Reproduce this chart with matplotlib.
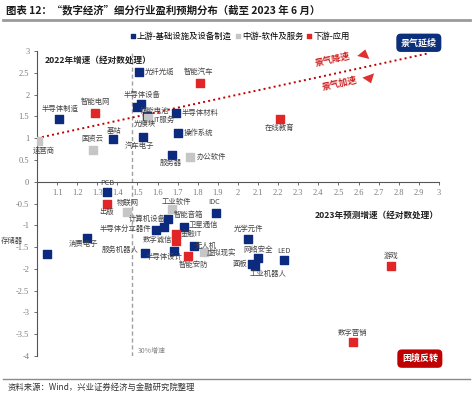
import numpy as np
import matplotlib
matplotlib.use('Agg')
import matplotlib.pyplot as plt
from matplotlib.lines import Line2D

plt.rcParams['font.family'] = ['Noto Sans CJK SC', 'DejaVu Sans']
plt.rcParams['axes.unicode_minus'] = False

# upstream: infrastructure & equipment
up_names = ['光纤光缆', '储能电池', '半导体设备', '光模块', '半导体材料', '操作系统', '基站',
            '汽车电子', '服务器', '半导体制造', 'PCB', 'IDC', '智能音箱', '计算机设备',
            '半导体分立器件', '卫星通信', '存储器', '消费电子', '服务机器人', '半导体设计',
            '无人机', '光学元件', '网络安全', '面板', '工业机器人', 'LED']
up_x = [1.51, 1.50, 1.52, 1.545, 1.69, 1.70, 1.38, 1.53, 1.67, 1.11, 1.35, 1.89, 1.65, 1.63,
        1.59, 1.73, 1.05, 1.25, 1.54, 1.68, 1.78, 2.05, 2.10, 2.07, 2.085, 2.23]
up_y = [2.52, 1.72, 1.79, 1.50, 1.58, 1.12, 0.99, 1.03, 0.62, 1.44, -0.23, -0.71, -0.85, -1.03,
        -1.10, -1.03, -1.65, -1.28, -1.63, -1.60, -1.47, -1.32, -1.74, -1.88, -1.93, -1.79]

# midstream: software & services
mid_names = ['IT服务', '国资云', '运营商', '办公软件', '出版', '工业软件', '虚拟现实']
mid_x = [1.55, 1.28, 1.005, 1.76, 1.45, 1.67, 1.83]
mid_y = [1.47, 0.73, 0.94, 0.57, -0.69, -0.62, -1.62]

# downstream: applications
down_names = ['智能汽车', '智能电网', '在线教育', '物联网', '金融IT', '数字诚信', '智能安防',
              '游戏', '数字营销']
down_x = [1.81, 1.29, 2.21, 1.35, 1.69, 1.69, 1.75, 2.76, 2.57]
down_y = [2.27, 1.58, 1.45, -0.50, -1.21, -1.36, -1.70, -1.93, -3.67]

# label offsets in pixels (dx, dy up)
label_off = {
    '光纤光缆': (20, 0), '储能电池': (17, -4), '半导体设备': (1, 9), '光模块': (-2, -8),
    '半导体材料': (24, 0), '操作系统': (21, 0), '基站': (1, 8), '汽车电子': (-4, -9),
    '服务器': (-1, -8), '半导体制造': (1, 10), 'PCB': (0, 9), 'IDC': (-2, 11),
    '智能音箱': (21, 4), '计算机设备': (-16, 8), '半导体分立器件': (-30, 1),
    '卫星通信': (20, 2), '存储器': (-35, 13), '消费电子': (-4, -6), '服务机器人': (-25, 3),
    '半导体设计': (-10, -6), '无人机': (12, 0), '光学元件': (0, 10), '网络安全': (0, 8),
    '面板': (-12, 0), '工业机器人': (13, -8), 'LED': (0, 9),
    'IT服务': (16, -2), '国资云': (-1, 11), '运营商': (6, -10), '办公软件': (22, 0),
    '出版': (-21, 0), '工业软件': (5, 7), '虚拟现实': (18, 0),
    '智能汽车': (-1, 11), '智能电网': (0, 11), '在线教育': (-1, -9), '物联网': (21, 1),
    '金融IT': (16, 1), '数字诚信': (-18, 1), '智能安防': (6, -9), '游戏': (0, 10),
    '数字营销': (0, 9),
}

BLUE = '#0c2b7e'
GRAY = '#c6c6c6'
RED = '#e02626'
DARKRED = '#c00000'

fig = plt.figure(figsize=(4.74, 3.94), dpi=100)
ax = fig.add_axes([0.078, 0.0964, 0.848, 0.774])
ax.set_xlim(1, 3)
ax.set_ylim(-4, 3)

ax.spines['top'].set_visible(False)
ax.spines['right'].set_visible(False)
ax.spines['bottom'].set_position(('data', 0))
for s in ['left', 'bottom']:
    ax.spines[s].set_color('#555555')
    ax.spines[s].set_linewidth(0.8)

xt = [round(v, 1) for v in np.arange(1.1, 3.01, 0.1)]
ax.set_xticks(xt)
ax.set_xticklabels(['%g' % v for v in xt])
yt = [round(v, 1) for v in np.arange(-4, 3.01, 0.5)]
ax.set_yticks(yt)
ax.set_yticklabels(['%g' % v for v in yt])
ax.tick_params(axis='both', labelsize=6, colors='#555555', length=2.5, width=0.6, pad=3)
for lab in ax.get_xticklabels() + ax.get_yticklabels():
    lab.set_family('Liberation Serif')
    lab.set_color('#7a7a7a')

# 30% growth line and trend line
ax.axvline(1.473, color='#a0a0a0', lw=1, ls=(0, (3, 2)), zorder=1)
tx = np.array([1.0, 2.95])
ax.plot(tx, tx, color=DARKRED, lw=1.4, ls=':', zorder=2)

ax.scatter(up_x, up_y, marker='s', s=26, color=BLUE, zorder=3, label='上游-基础设施及设备制造')
ax.scatter(mid_x, mid_y, marker='s', s=26, color=GRAY, zorder=4, label='中游-软件及服务')
ax.scatter(down_x, down_y, marker='s', s=26, color=RED, zorder=4, label='下游-应用')

for names, xs, ys in [(up_names, up_x, up_y), (mid_names, mid_x, mid_y),
                      (down_names, down_x, down_y)]:
    for n, xv, yv in zip(names, xs, ys):
        dx, dy = label_off[n]
        ax.annotate(n, (xv, yv), xytext=(dx, dy), textcoords='offset pixels',
                    ha='center', va='center', fontsize=5.3, color='#444444',
                    fontweight='light', annotation_clip=False, zorder=5)

ax.text(1.04, 2.78, '2022年增速（经对数处理）', fontsize=6.2, fontweight='bold',
        color='#222222', ha='left', va='center')
ax.text(3.0, -0.78, '2023年预测增速（经对数处理）', fontsize=6.2, fontweight='bold',
        color='#222222', ha='right', va='center')
ax.text(1.572, -3.88, '30%增速', fontsize=5, color='#888888', ha='center', va='center')

ax.text(2.473, 2.80, '景气降速', fontsize=6.5, color='#d02020', fontweight='bold',
        rotation=12, rotation_mode='anchor', ha='center', va='center')
ax.text(2.507, 2.25, '景气加速', fontsize=6.5, color='#d02020', fontweight='bold',
        rotation=12, rotation_mode='anchor', ha='center', va='center')
arrow_style = dict(arrowstyle='simple,head_width=0.9,head_length=0.6,tail_width=0.4',
                   color='#e03030', lw=0)
ax.annotate('', xy=(2.637, 3.10), xytext=(2.622, 2.82), arrowprops=arrow_style,
            annotation_clip=False)
ax.annotate('', xy=(2.667, 2.20), xytext=(2.645, 2.48), arrowprops=arrow_style,
            annotation_clip=False)

ax.text(2.90, 3.19, '景气延续', fontsize=6.5, color='white', fontweight='bold',
        ha='center', va='center', clip_on=False,
        bbox=dict(boxstyle='round,pad=0.5', fc='#0b2f7a', ec='none'))
ax.text(2.905, -4.06, '困境反转', fontsize=6.5, color='white', fontweight='bold',
        ha='center', va='center', clip_on=False,
        bbox=dict(boxstyle='round,pad=0.5', fc=DARKRED, ec='none'))

fig.legend(loc='center', bbox_to_anchor=(240 / 474, 1 - 36 / 394), ncol=3, frameon=False,
           fontsize=6, handlelength=0.6, handletextpad=0.2, columnspacing=0.4,
           borderpad=0, markerscale=0.7)

fig.text(6 / 474, 1 - 10 / 394, '图表 12：“数字经济”细分行业盈利预期分布（截至 2023 年 6 月）',
         fontsize=7.5, fontweight='bold', color='#1a1a1a', ha='left', va='center')
fig.add_artist(Line2D([3 / 474, 470 / 474], [1 - 20 / 394] * 2, color='#9a9a9a', lw=2))
fig.add_artist(Line2D([3 / 474, 470 / 474], [1 - 379 / 394] * 2, color='#8a8a8a', lw=1))
fig.text(8 / 474, 1 - 387 / 394, '资料来源：Wind，兴业证券经济与金融研究院整理',
         fontsize=6, color='#333333', ha='left', va='center')

fig.savefig('out.png', dpi=100)
